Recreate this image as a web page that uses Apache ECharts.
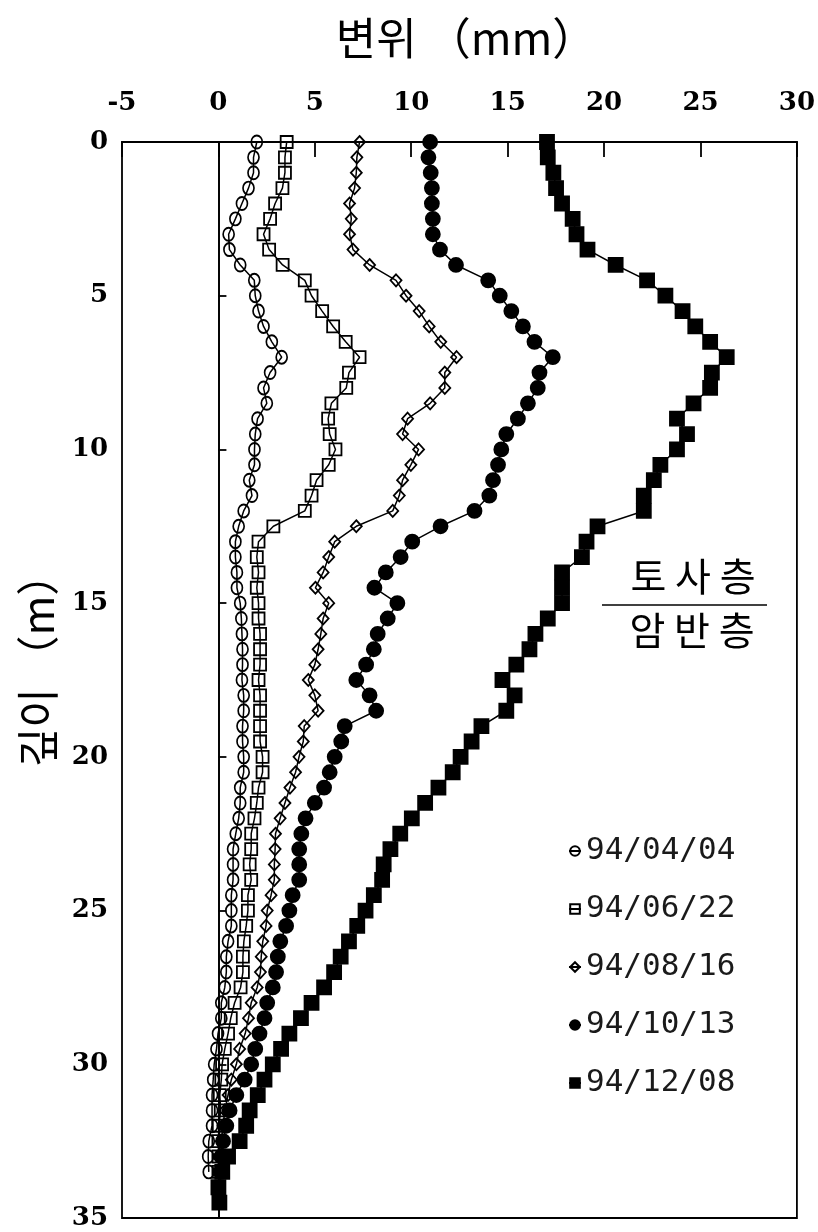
<!DOCTYPE html>
<html>
<head>
<meta charset="utf-8">
<script src="https://cdn.jsdelivr.net/npm/echarts@6/dist/echarts.min.js"></script>
<style>
  html, body { margin: 0; padding: 0; background: #fff; }
  #chart { width: 818px; height: 1232px; }
</style>
</head>
<body>
<div id="chart"></div>
<script>
// Inclinometer readings: depth (m) vs lateral displacement (mm)
const DEPTH = [0, 0.5, 1, 1.5, 2, 2.5, 3, 3.5, 4, 4.5, 5, 5.5, 6, 6.5, 7, 7.5, 8, 8.5, 9, 9.5,
  10, 10.5, 11, 11.5, 12, 12.5, 13, 13.5, 14, 14.5, 15, 15.5, 16, 16.5, 17, 17.5, 18, 18.5, 19, 19.5,
  20, 20.5, 21, 21.5, 22, 22.5, 23, 23.5, 24, 24.5, 25, 25.5, 26, 26.5, 27, 27.5, 28, 28.5, 29, 29.5,
  30, 30.5, 31, 31.5, 32, 32.5, 33, 33.5, 34, 34.5];

const DATES = ['94/04/04', '94/06/22', '94/08/16', '94/10/13', '94/12/08'];

const D_940404 = [1.99, 1.82, 1.82, 1.56, 1.22, 0.88, 0.53, 0.57, 1.13, 1.86, 1.91, 2.08, 2.34, 2.77, 3.28, 2.68, 2.34, 2.51, 2.03, 1.91,
  1.87, 1.87, 1.60, 1.74, 1.31, 1.05, 0.88, 0.88, 0.96, 0.96, 1.13, 1.19, 1.22, 1.25, 1.25, 1.22, 1.31, 1.31, 1.25, 1.25,
  1.31, 1.31, 1.13, 1.13, 1.05, 0.90, 0.76, 0.76, 0.76, 0.67, 0.67, 0.67, 0.50, 0.41, 0.41, 0.33, 0.15, 0.15, -0.02, -0.10,
  -0.22, -0.27, -0.33, -0.33, -0.33, -0.50, -0.53, -0.50];

const D_940622 = [3.54, 3.45, 3.45, 3.32, 2.94, 2.68, 2.34, 2.63, 3.33, 4.48, 4.83, 5.38, 5.95, 6.60, 7.32, 6.77, 6.63, 5.86, 5.69, 5.77,
  6.07, 5.72, 5.09, 4.83, 4.48, 2.85, 2.08, 1.99, 2.08, 1.99, 2.08, 2.08, 2.16, 2.16, 2.16, 2.08, 2.16, 2.16, 2.16, 2.16,
  2.29, 2.29, 2.08, 1.99, 1.87, 1.70, 1.70, 1.62, 1.70, 1.53, 1.53, 1.44, 1.32, 1.27, 1.27, 1.15, 0.84, 0.64, 0.50, 0.33,
  0.19, 0.15, 0.07, 0.12, 0.02, 0.00, 0.00, 0.00];

const D_940816 = [7.32, 7.18, 7.15, 7.06, 6.80, 6.89, 6.80, 6.98, 7.84, 9.21, 9.73, 10.41, 10.93, 11.53, 12.35, 11.74, 11.74, 10.98, 9.81, 9.55,
  10.38, 9.98, 9.55, 9.38, 9.04, 7.15, 6.03, 5.72, 5.43, 5.03, 5.72, 5.43, 5.31, 5.17, 5.00, 4.66, 5.00, 5.17, 4.45, 4.40,
  4.18, 4.00, 3.71, 3.45, 3.20, 2.96, 2.94, 2.90, 2.90, 2.73, 2.53, 2.47, 2.30, 2.22, 2.18, 2.01, 1.70, 1.56, 1.39, 1.10,
  0.93, 0.67, 0.50, 0.33, 0.24, 0.15, 0.12, 0.07];

const D_941013 = [10.98, 10.89, 11.01, 11.07, 11.07, 11.12, 11.12, 11.49, 12.32, 13.99, 14.59, 15.19, 15.79, 16.39, 17.34, 16.65, 16.56, 16.05, 15.53, 14.93,
  14.67, 14.50, 14.24, 14.05, 13.28, 11.52, 10.05, 9.45, 8.68, 8.09, 9.28, 8.78, 8.26, 8.06, 7.66, 7.15, 7.84, 8.18, 6.55, 6.37,
  6.03, 5.77, 5.48, 5.00, 4.52, 4.30, 4.19, 4.19, 4.19, 3.85, 3.68, 3.51, 3.21, 3.08, 2.99, 2.82, 2.53, 2.39, 2.13, 1.91,
  1.70, 1.36, 0.93, 0.58, 0.41, 0.24, 0.15, 0.12];

const D_941208 = [17.04, 17.08, 17.37, 17.51, 17.82, 18.37, 18.57, 19.14, 20.60, 22.23, 23.18, 24.07, 24.73, 25.50, 26.36, 25.59, 25.50, 24.64, 23.78, 24.30,
  23.78, 22.92, 22.58, 22.06, 22.06, 19.66, 19.09, 18.85, 17.82, 17.82, 17.82, 17.08, 16.44, 16.13, 15.45, 14.73, 15.36, 14.93, 13.64, 13.13,
  12.56, 12.15, 11.41, 10.72, 10.03, 9.43, 8.92, 8.57, 8.49, 8.06, 7.63, 7.20, 6.77, 6.34, 6.00, 5.48, 4.83, 4.28, 3.68, 3.25,
  2.82, 2.39, 2.04, 1.62, 1.44, 1.10, 0.50, 0.20, 0.00, 0.05];

const X_TICKS = [-5, 0, 5, 10, 15, 20, 25, 30];
const Y_TICKS = [0, 5, 10, 15, 20, 25, 30, 35];

const X_TITLE = '변위 （mm）';
const Y_TITLE = '깊이 （m）';
const LAYER_UPPER = '토 사 층';
const LAYER_LOWER = '암 반 층';

const chart = echarts.init(document.getElementById('chart'), null, { renderer: 'canvas' });

function pairs(vals) {
  return vals.map((v, i) => [v, DEPTH[i]]);
}

const HOLLOW = 'rgba(0,0,0,0)';
const styles = [
  { symbol: 'circle', size: [11, 13], fill: HOLLOW },
  { symbol: 'rect', size: 12, fill: HOLLOW },
  { symbol: 'diamond', size: [11, 12], fill: HOLLOW },
  { symbol: 'circle', size: 14, fill: '#000' },
  { symbol: 'rect', size: 14, fill: '#000' }
];
const values = [D_940404, D_940622, D_940816, D_941013, D_941208];

const series = DATES.map((name, k) => ({
  name: name,
  type: 'line',
  data: pairs(values[k]),
  symbol: styles[k].symbol,
  symbolSize: styles[k].size,
  showAllSymbol: true,
  lineStyle: { color: '#000', width: 1.5 },
  itemStyle: { color: styles[k].fill, borderColor: '#000', borderWidth: 1.8 },
  emphasis: { disabled: true },
  z: 3 + k
}));

// vertical reference line at zero displacement
series[0].markLine = {
  silent: true,
  symbol: 'none',
  label: { show: false },
  lineStyle: { color: '#000', width: 1.6, type: 'solid' },
  data: [{ xAxis: 0 }]
};

const tickFont = { fontFamily: 'DejaVu Serif', fontWeight: 'bold', fontSize: 26, color: '#000' };

const option = {
  animation: false,
  backgroundColor: '#fff',
  grid: {
    left: 122, right: 19, top: 142, bottom: 14,
    show: true, borderColor: '#000', borderWidth: 1.8, backgroundColor: 'transparent'
  },
  xAxis: {
    type: 'value',
    position: 'top',
    min: X_TICKS[0], max: X_TICKS[X_TICKS.length - 1], interval: 5,
    axisLine: { show: true, lineStyle: { color: '#000', width: 1.8 } },
    axisTick: { show: true, inside: true, length: 15, lineStyle: { color: '#000', width: 1.8 } },
    axisLabel: Object.assign({ margin: 26 }, tickFont),
    splitLine: { show: false }
  },
  yAxis: {
    type: 'value',
    inverse: true,
    min: Y_TICKS[0], max: Y_TICKS[Y_TICKS.length - 1], interval: 5,
    axisLine: { show: true, lineStyle: { color: '#000', width: 1.8 } },
    axisTick: { show: true, inside: true, length: 8, lineStyle: { color: '#000', width: 1.8 } },
    axisLabel: Object.assign({ margin: 14 }, tickFont),
    splitLine: { show: false }
  },
  legend: {
    orient: 'vertical',
    left: 563,
    top: 830,
    itemWidth: 12,
    itemHeight: 12,
    itemGap: 26,
    data: DATES,
    selectedMode: false,
    textStyle: { fontFamily: 'DejaVu Sans Mono', fontSize: 31, lineHeight: 32, color: '#1a1a1a' }
  },
  graphic: [
    {
      type: 'text', x: 466, y: 38, z: 10,
      style: { text: X_TITLE, font: '44px "Noto Sans CJK KR"', fill: '#000', align: 'center', verticalAlign: 'middle' }
    },
    {
      type: 'text', x: 38, y: 660, rotation: Math.PI / 2, z: 10,
      style: { text: Y_TITLE, font: '43px "Noto Sans CJK KR"', fill: '#000', align: 'center', verticalAlign: 'middle' }
    },
    {
      type: 'text', x: 693, y: 576, z: 10,
      style: { text: LAYER_UPPER, font: '39px "Noto Sans CJK KR"', fill: '#000', align: 'center', verticalAlign: 'middle' }
    },
    {
      type: 'line', z: 10,
      shape: { x1: 602, y1: 605, x2: 767, y2: 605 },
      style: { stroke: '#000', lineWidth: 1.6 }
    },
    {
      type: 'text', x: 692, y: 630, z: 10,
      style: { text: LAYER_LOWER, font: '39px "Noto Sans CJK KR"', fill: '#000', align: 'center', verticalAlign: 'middle' }
    }
  ],
  series: series
};

chart.setOption(option);
</script>
</body>
</html>
